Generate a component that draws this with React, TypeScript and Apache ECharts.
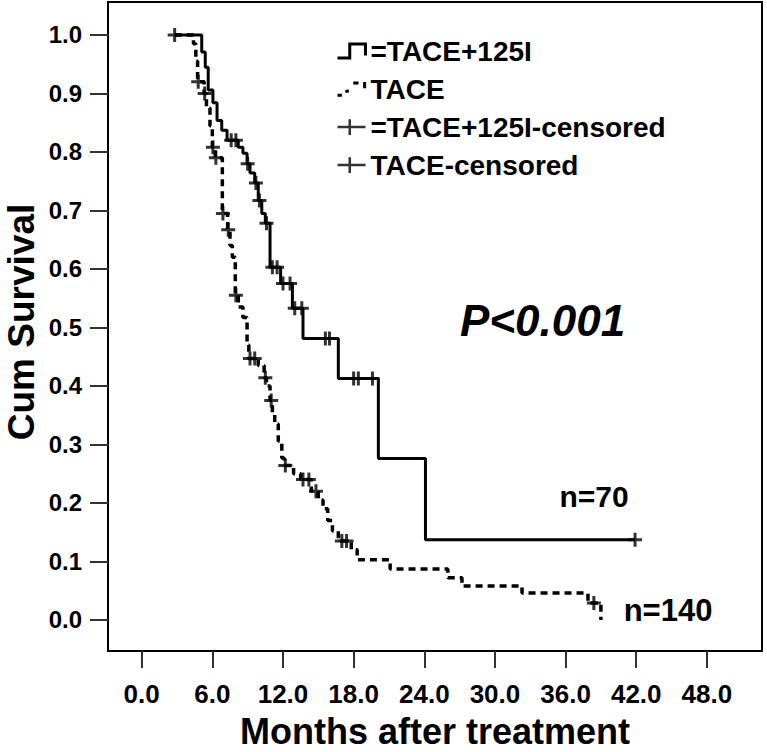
import React, { useEffect, useRef } from "react";
import * as echarts from "echarts";

const FONT = '"Liberation Sans", Arial, sans-serif';

const xTicks = [0, 6, 12, 18, 24, 30, 36, 42, 48];
const yTicks = [0, 0.1, 0.2, 0.3, 0.4, 0.5, 0.6, 0.7, 0.8, 0.9, 1.0];

// TACE + 125I (solid): times of each step and survival after the step
const comboTimes = [2.8, 5.1, 5.4, 5.65, 6.05, 6.4, 6.8, 7.25, 8.2, 8.6, 8.95, 9.2, 9.6, 9.9, 10.2, 10.5, 10.9, 11.8, 12.8, 13.7, 16.7, 20.1, 24.1, 41.9];
const comboSurv = [1.0, 0.971, 0.945, 0.906, 0.884, 0.854, 0.837, 0.82, 0.808, 0.798, 0.78, 0.764, 0.747, 0.717, 0.695, 0.678, 0.603, 0.575, 0.533, 0.481, 0.413, 0.276, 0.137, 0.137];
const comboCensTimes = [2.8, 7.6, 8.0, 9.0, 9.7, 10.0, 10.6, 11.1, 11.5, 12.0, 12.6, 13.0, 13.6, 15.6, 15.95, 18.0, 18.4, 19.6, 41.9];
const comboCensSurv = [1.0, 0.82, 0.82, 0.78, 0.747, 0.717, 0.678, 0.603, 0.603, 0.575, 0.575, 0.533, 0.533, 0.481, 0.481, 0.413, 0.413, 0.413, 0.137];

// TACE (dashed)
const taceTimes = [2.8, 4.4, 4.6, 4.75, 5.3, 5.5, 5.8, 6.0, 6.25, 6.85, 7.3, 7.5, 7.7, 7.95, 8.2, 8.6, 8.95, 9.1, 9.9, 10.4, 10.6, 10.9, 11.1, 11.3, 11.6, 11.9, 12.1, 12.9, 13.5, 14.4, 15.0, 15.4, 15.8, 16.2, 16.7, 17.8, 18.3, 21.1, 26.0, 27.2, 32.3, 37.9, 39.0];
const taceSurv = [1.0, 0.985, 0.955, 0.92, 0.9, 0.875, 0.845, 0.808, 0.79, 0.695, 0.667, 0.64, 0.62, 0.555, 0.535, 0.517, 0.47, 0.447, 0.435, 0.414, 0.4, 0.375, 0.354, 0.335, 0.306, 0.277, 0.264, 0.25, 0.24, 0.22, 0.205, 0.19, 0.17, 0.152, 0.135, 0.12, 0.103, 0.087, 0.072, 0.058, 0.046, 0.029, 0.0];
const taceCensTimes = [4.8, 5.35, 6.05, 6.3, 6.9, 7.35, 8.0, 9.2, 9.6, 10.5, 11.0, 12.2, 13.7, 14.2, 14.8, 17.0, 17.4, 38.4];
const taceCensSurv = [0.92, 0.9, 0.808, 0.79, 0.695, 0.667, 0.555, 0.447, 0.447, 0.414, 0.375, 0.264, 0.24, 0.24, 0.22, 0.135, 0.135, 0.029];

const zip = (a: number[], b: number[]) => a.map((v, i) => [v, b[i]]);

const PLUS = "path://M0,6L12,6M6,0L6,12";
const STEP_ICON = "path://M0,17L14,17L14,1L32,1L32,14";
const DASH_ICON = "path://M0,16L5,16M9,12L13,11M18,2L24,2M31,1L31,8M32,17";
const PLUS_ICON = "path://M0,9L32,9M14,0L14,18";

const strokeOnly = { color: "rgba(0,0,0,0)", borderColor: "#000", borderWidth: 3 };

export default function App() {
  const ref = useRef<HTMLDivElement>(null);
  useEffect(() => {
    const chart = echarts.init(ref.current!, null, { renderer: "svg" });
    chart.setOption({
      animation: false,
      backgroundColor: "#fff",
      textStyle: { fontFamily: FONT },
      grid: {
        left: 108,
        right: 5,
        top: 2,
        bottom: 101,
        show: true,
        borderColor: "#000",
        borderWidth: 2,
        backgroundColor: "rgba(0,0,0,0)",
        containLabel: false,
        outerBoundsMode: "none",
      },
      legend: {
        left: 331,
        top: 32,
        orient: "vertical",
        itemWidth: 28,
        itemHeight: 16,
        itemGap: 10,
        selectedMode: false,
        textStyle: { fontSize: 28, fontWeight: "bold", color: "#000", fontFamily: FONT },
        data: [
          { name: "=TACE+125I", icon: STEP_ICON, itemStyle: strokeOnly },
          { name: "TACE", icon: DASH_ICON, itemStyle: strokeOnly },
          { name: "=TACE+125I-censored", icon: PLUS_ICON, itemStyle: { ...strokeOnly, borderWidth: 2.5 } },
          { name: "TACE-censored", icon: PLUS_ICON, itemStyle: { ...strokeOnly, borderWidth: 2.5 } },
        ],
      },
      xAxis: {
        type: "value",
        min: -2.86,
        max: 52.68,
        axisLine: { show: false, onZero: false },
        splitLine: { show: false },
        axisTick: { show: true, inside: false, customValues: xTicks, length: 17, lineStyle: { color: "#333", width: 2 } },
        axisLabel: {
          customValues: xTicks,
          formatter: (v: number) => v.toFixed(1),
          margin: 30,
          fontSize: 26,
          fontWeight: "bold",
          color: "#000",
          fontFamily: FONT,
        },
        name: "Months after treatment",
        nameLocation: "middle",
        nameGap: 62,
        nameTextStyle: { fontSize: 36, fontWeight: "bold", color: "#000", fontFamily: FONT, lineHeight: 36 },
      },
      yAxis: {
        type: "value",
        min: -0.053,
        max: 1.0564,
        axisLine: { show: false, onZero: false },
        splitLine: { show: false },
        axisTick: { show: true, inside: false, customValues: yTicks, length: 18, lineStyle: { color: "#333", width: 2 } },
        axisLabel: {
          customValues: yTicks,
          formatter: (v: number) => v.toFixed(1),
          margin: 26,
          fontSize: 24,
          fontWeight: "bold",
          color: "#000",
          fontFamily: FONT,
        },
      },
      graphic: [
        {
          type: "text",
          x: 21,
          y: 322,
          rotation: Math.PI / 2,
          style: { text: "Cum Survival", fontSize: 37, fontWeight: "bold", fontFamily: FONT, fill: "#000", align: "center", verticalAlign: "middle" },
        },
        {
          type: "text",
          x: 460,
          y: 320,
          style: { text: "P<0.001", fontSize: 44, fontWeight: "bold", fontStyle: "italic", fontFamily: FONT, fill: "#000", align: "left", verticalAlign: "middle" },
        },
        {
          type: "text",
          x: 594,
          y: 496,
          style: { text: "n=70", fontSize: 30, fontWeight: "bold", fontFamily: FONT, fill: "#000", align: "center", verticalAlign: "middle" },
        },
        {
          type: "text",
          x: 668,
          y: 610,
          style: { text: "n=140", fontSize: 31, fontWeight: "bold", fontFamily: FONT, fill: "#000", align: "center", verticalAlign: "middle" },
        },
      ],
      series: [
        {
          name: "=TACE+125I",
          type: "line",
          step: "end",
          color: "#000",
          symbol: "none",
          data: zip(comboTimes, comboSurv),
          lineStyle: { color: "#000", width: 3 },
          z: 3,
        },
        {
          name: "TACE",
          type: "line",
          step: "end",
          color: "#000",
          symbol: "none",
          data: zip(taceTimes, taceSurv),
          lineStyle: { color: "#000", width: 3.5, type: [7, 5] },
          z: 3,
        },
        {
          name: "=TACE+125I-censored",
          type: "scatter",
          color: "#000",
          symbol: PLUS,
          symbolSize: 14,
          data: zip(comboCensTimes, comboCensSurv),
          itemStyle: { color: "rgba(0,0,0,0)", borderColor: "#000", borderWidth: 3 },
          z: 4,
        },
        {
          name: "TACE-censored",
          type: "scatter",
          color: "#000",
          symbol: PLUS,
          symbolSize: 14,
          data: zip(taceCensTimes, taceCensSurv),
          itemStyle: { color: "rgba(0,0,0,0)", borderColor: "#000", borderWidth: 3 },
          z: 4,
        },
      ],
    });
    return () => chart.dispose();
  }, []);
  return (
    <div
      ref={ref}
      style={{ position: "fixed", left: 0, top: 0, width: 767, height: 752, background: "#fff" }}
    />
  );
}
